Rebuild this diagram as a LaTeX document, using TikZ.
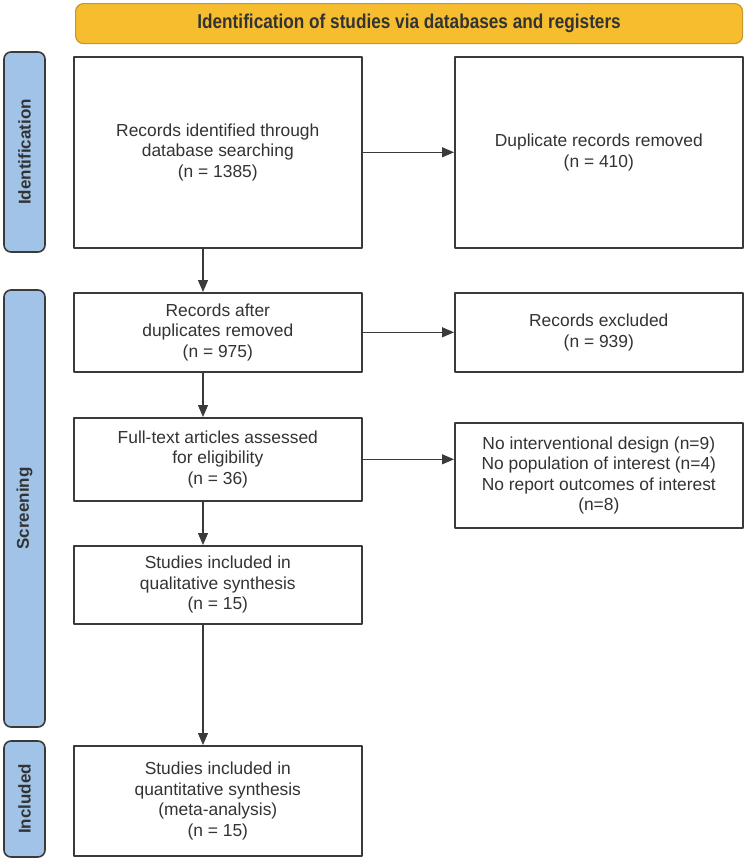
\documentclass[tikz,border=0pt]{standalone}
\usepackage{fontspec}
\setmainfont{Liberation Sans}
\newfontfamily\headfont{Liberation Sans}[FakeStretch=0.86]
\usetikzlibrary{arrows.meta,positioning}
\definecolor{pfHead}{HTML}{F6BE2F}
\definecolor{pfHeadLine}{HTML}{C8962A}
\definecolor{pfPhase}{HTML}{A0C3E7}
\definecolor{pfInk}{HTML}{333333}
\definecolor{pfLine}{HTML}{3A3A3A}
\tikzset{
  pf diagram/.style={x=1pt, y=-1pt, font=\fontsize{17.4}{20.5}\selectfont,
    text=pfInk, line join=round},
  pf box/.style={draw=pfLine, fill=white, line width=1.6pt, align=center,
    inner sep=0pt, anchor=north west},
  pf phase/.style={draw=pfLine, fill=pfPhase, line width=1.6pt,
    rounded corners=7pt, inner sep=0pt, minimum height=41pt, rotate=90,
    font=\fontsize{17}{19}\selectfont\bfseries},
  pf head/.style={draw=pfHeadLine, fill=pfHead, line width=1.2pt,
    rounded corners=8pt, inner sep=0pt, anchor=north west,
    minimum width=667pt, minimum height=40pt,
    font=\headfont\fontsize{20}{22}\selectfont\bfseries},
  pf arrow/.style={-{Triangle[length=12pt,width=10pt]}, draw=pfLine,
    line width=1.2pt}
}
\begin{document}
\begin{tikzpicture}[pf diagram]
\useasboundingbox (0,0) rectangle (747,863);
% heading and phases
\node[pf head] (head) at (75,3) {Identification of studies via databases and registers};
\node[pf phase, minimum width=200pt] (phId) at (24.5,152) {Identification};
\node[pf phase, minimum width=437pt] (phScr) at (24.5,508.5) {Screening};
\node[pf phase, minimum width=116pt] (phInc) at (24.5,799) {Included};
% boxes
\node[pf box, minimum width=288pt, minimum height=191pt] (recId) at (73,56)
  {Records identified through\\database searching\\(n = 1385)};
\node[pf box, minimum width=288pt, minimum height=191pt] (dupRem) at (454,56)
  {Duplicate records removed\\(n = 410)};
\node[pf box, minimum width=288pt, minimum height=79pt] (recAfter) at (73,292)
  {Records after\\duplicates removed\\(n = 975)};
\node[pf box, minimum width=288pt, minimum height=79pt] (recExcl) at (454,292)
  {Records excluded\\(n = 939)};
\node[pf box, minimum width=288pt, minimum height=83pt] (fullText) at (73,417)
  {Full-text articles assessed\\for eligibility\\(n = 36)};
\node[pf box, minimum width=288pt, minimum height=105pt] (exclFull) at (454,422)
  {No interventional design (n=9)\\No population of interest (n=4)\\No report outcomes of interest\\(n=8)};
\node[pf box, minimum width=288pt, minimum height=78pt] (qualSyn) at (73,545)
  {Studies included in\\qualitative synthesis\\(n = 15)};
\node[pf box, minimum width=288pt, minimum height=110pt] (quantSyn) at (73,745)
  {Studies included in\\quantitative synthesis\\(meta-analysis)\\(n = 15)};
% connectors
\coordinate (spine) at (203,0);
\draw[pf arrow] (recId.east) -- (dupRem.west);
\draw[pf arrow] (recAfter.east) -- (recExcl.west);
\draw[pf arrow] (fullText.east) -- (fullText.east -| exclFull.west);
\draw[pf arrow] (recId.south -| spine) -- (recAfter.north -| spine);
\draw[pf arrow] (recAfter.south -| spine) -- (fullText.north -| spine);
\draw[pf arrow] (fullText.south -| spine) -- (qualSyn.north -| spine);
\draw[pf arrow] (qualSyn.south -| spine) -- (quantSyn.north -| spine);
\end{tikzpicture}
\end{document}
